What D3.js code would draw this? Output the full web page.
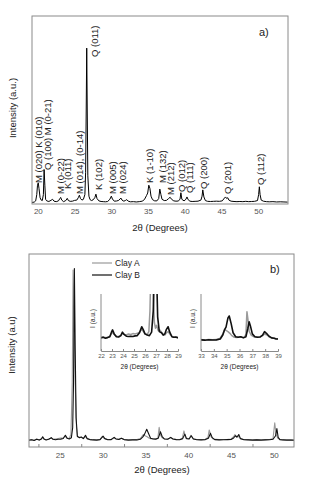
<!DOCTYPE html>
<html>
<head>
<meta charset="utf-8">
<script src="https://cdn.jsdelivr.net/npm/d3@7"></script>
<style>
  body { margin: 0; background: #fff; }
  svg { display: block; font-family: Arial, "Liberation Sans", sans-serif; }
</style>
</head>
<body>
<div id="chart"></div>
<script>
// ---- data (2theta in degrees, intensity in arbitrary units) ----
// panel a: mixed clay pattern
const patternMix = [
  [19.2,1.0],[19.5,1.2],[19.7,2.0],[19.85,6],[19.95,12],[20.05,13.5],[20.15,10],[20.3,4],[20.45,2.5],
  [20.6,2.2],[20.75,6],[20.85,22],[20.95,12],[21.05,3],[21.2,2],[21.5,1.6],[21.8,2.4],[22.0,3],
  [22.2,1.8],[22.5,1.5],[22.8,2],[23.0,3.5],[23.1,4.2],[23.25,2.5],[23.5,1.5],[23.8,2.2],[24.0,3.6],
  [24.15,2.2],[24.4,1.7],[24.7,1.8],[25.0,2.3],[25.3,2.5],[25.5,4],[25.65,5.6],[25.8,3.5],[26.0,2.5],
  [26.2,3],[26.4,6],[26.5,20],[26.58,60],[26.65,99.5],[26.72,60],[26.8,18],[26.95,5],[27.1,2.8],
  [27.3,2.2],[27.5,2.6],[27.75,4],[27.9,6.3],[28.05,3.5],[28.3,2],[28.6,1.6],[28.9,1.5],[29.2,1.4],
  [29.5,1.6],[29.8,3],[30.0,5],[30.15,3.2],[30.4,1.8],[30.7,1.9],[31.0,2.3],[31.3,3.8],[31.45,2.5],
  [31.7,1.8],[31.9,2.2],[32.1,2.8],[32.3,1.8],[32.6,1.4],[33.0,1.5],[33.4,1.3],[33.8,1.5],[34.2,1.8],
  [34.5,2.8],[34.8,5.5],[34.95,7],[35.1,12],[35.25,10],[35.4,5],[35.6,2.8],[35.9,2],[36.2,2],
  [36.45,3.5],[36.6,9.5],[36.75,6],[36.9,3],[37.2,2.2],[37.5,2.3],[37.8,3.5],[38.0,4.3],[38.2,3],
  [38.5,2],[38.8,1.8],[39.1,1.9],[39.35,3],[39.47,7.2],[39.6,3],[39.9,2],[40.15,3],[40.3,4.5],
  [40.45,2.8],[40.7,1.8],[41.0,1.6],[41.4,1.7],[41.8,1.8],[42.2,2.5],[42.35,5],[42.45,9],[42.6,4.5],
  [42.8,2.2],[43.1,1.7],[43.5,1.6],[43.9,1.7],[44.3,1.8],[44.7,1.7],[45.1,2],[45.4,3.8],[45.55,4.5],
  [45.7,3.5],[45.85,4],[46.0,2.5],[46.3,1.8],[46.7,1.6],[47.1,1.5],[47.5,1.6],[47.9,1.5],[48.3,1.7],
  [48.7,1.5],[49.1,1.6],[49.5,1.7],[49.9,2.2],[50.05,6],[50.15,11],[50.25,6],[50.4,2.5],[50.7,1.8],
  [51.1,1.5],[51.5,1.4],[52.0,1.5],[52.5,1.3],[53.0,1.4],[53.5,1.3],[54.0,1.2]
];

// peak labels: text, 2theta of the label column, intensity where the text starts
const peakText = ["M (020) K (010)", "Q (100) M (0-21)", "M (0-22)", "K (011)", "M (014), (0-14)",
  "Q (011)", "K (102)", "M (005)", "M (024)", "K (1-10)", "M (132)", "M (212)", "Q (012)",
  "Q (111)", "Q (200)", "Q (201)", "Q (112)"];
const peakAt = [20.14, 21.28, 23.06, 24.09, 25.69, 27.74, 28.32, 30.23, 31.6, 35.24, 37.05,
  38.06, 39.56, 40.7, 42.6, 45.78, 50.34];
const peakFrom = [13.4, 21.7, 6.4, 9.6, 6.4, 93.8, 8.9, 6.4, 6.4, 13.4, 13.4, 5.7, 7.7, 7, 9.6, 6.4, 12.1];

const ticksA = [20, 25, 30, 35, 40, 45, 50];

// panel b: the two clays
const clayA = [
  [21.4,4.4],[21.7,4.6],[22.0,4.2],[22.3,4.9],[22.6,4.4],[22.85,5.2],[23.0,6.0],[23.15,5.0],[23.4,4.5],
  [23.7,5.0],[24.0,5.6],[24.2,5.0],[24.5,4.9],[24.8,5.3],[25.1,5.6],[25.4,5.6],[25.6,6.8],[25.8,5.6],
  [26.1,5.3],[26.3,8],[26.45,40],[26.55,110],[26.65,85],[26.75,50],[26.85,30],[26.95,12],[27.05,6.5],
  [27.3,6.2],[27.5,6.0],[27.75,5.4],[28.0,6.5],[28.2,5.2],[28.5,4.7],[28.9,4.6],[29.3,4.5],[29.7,4.7],
  [29.95,6.5],[30.15,5.5],[30.6,4.7],[31.0,4.8],[31.3,5.8],[31.55,5.1],[31.9,4.9],[32.15,5.5],[32.5,4.7],
  [33.0,4.5],[33.5,4.5],[34.0,4.6],[34.4,5.2],[34.75,7.7],[34.95,7.0],[35.15,6.5],[35.4,5.6],[35.6,5.2],
  [35.9,5.1],[36.2,5.0],[36.45,5.6],[36.6,12.2],[36.75,7.5],[36.95,5.8],[37.2,5.1],[37.6,4.9],[37.95,5.8],
  [38.2,5.1],[38.6,4.7],[39.0,4.7],[39.3,5.3],[39.5,10],[39.7,5.5],[40.1,5.1],[40.3,7.3],[40.55,5.2],
  [41.0,4.7],[41.5,4.6],[42.0,4.8],[42.3,6],[42.45,10.6],[42.65,6.5],[42.9,5.0],[43.6,4.6],[44.1,4.7],
  [44.6,4.8],[45.0,5.0],[45.3,6.4],[45.45,7.7],[45.65,6.0],[45.85,6.8],[46.05,5.3],[46.5,4.7],[47.0,4.6],
  [47.5,4.5],[48.0,4.6],[48.5,4.5],[49.0,4.6],[49.5,4.7],[49.9,5.2],[50.1,15],[50.25,8],[50.45,5.5],
  [50.7,4.8],[51.0,4.6],[51.5,4.5],[52.0,4.5],[52.35,4.4]
];
const clayB = [
  [21.4,4.2],[21.7,4.5],[22.0,4.0],[22.3,4.8],[22.6,4.3],[22.85,5.0],[23.0,6.4],[23.15,5.0],[23.4,4.4],
  [23.7,4.8],[24.0,5.8],[24.2,4.8],[24.5,4.5],[24.8,4.8],[25.1,4.9],[25.4,5.3],[25.65,7.3],[25.85,5.5],
  [26.1,5.0],[26.35,5.8],[26.5,12],[26.6,40],[26.7,111],[26.8,60],[26.9,18],[27.05,6.5],[27.3,5.8],
  [27.5,6.2],[27.75,5.2],[28.0,7.3],[28.2,5.2],[28.5,4.6],[28.9,4.4],[29.3,4.3],[29.7,4.6],[29.9,5.8],
  [30.05,6.8],[30.25,5.2],[30.6,4.5],[31.0,4.6],[31.35,6.0],[31.55,5.0],[31.9,4.7],[32.2,5.4],[32.5,4.6],
  [33.0,4.3],[33.5,4.4],[34.0,4.4],[34.4,4.8],[34.7,6.3],[34.9,8],[35.15,11],[35.35,8.5],[35.6,5.5],
  [35.9,5.0],[36.2,4.9],[36.5,5.5],[36.75,9.5],[36.95,6.5],[37.2,5.0],[37.6,4.8],[37.95,6.0],[38.2,5.0],
  [38.6,4.6],[39.0,4.5],[39.35,5.2],[39.6,8],[39.8,5.2],[40.1,5.0],[40.35,7.0],[40.6,5.0],[41.0,4.5],
  [41.5,4.4],[42.0,4.6],[42.35,5.5],[42.6,8.5],[42.8,5.8],[43.1,4.6],[43.6,4.4],[44.1,4.5],[44.6,4.6],
  [45.0,4.7],[45.3,5.6],[45.5,7.0],[45.7,6.2],[45.9,7.8],[46.1,5.2],[46.5,4.5],[47.0,4.4],[47.5,4.3],
  [48.0,4.4],[48.5,4.3],[49.0,4.4],[49.5,4.5],[49.9,4.8],[50.2,7],[50.35,11.4],[50.5,6],[50.7,4.6],
  [51.0,4.4],[51.5,4.3],[52.0,4.3],[52.35,4.2]
];
const ticksB = [25, 30, 35, 40, 45, 50];
const minorTicksB = [22.5, 27.5, 32.5, 37.5, 42.5, 47.5];

// insets (zoomed regions, own intensity scale)
const inset1A = [
  [22.0,24],[22.2,24.5],[22.4,23.5],[22.6,24],[22.8,25.5],[22.95,30],[23.05,33],[23.2,29],[23.4,26],
  [23.6,25.5],[23.8,27],[23.95,31],[24.1,29],[24.3,28],[24.5,29.8],[24.7,29],[24.9,30.5],[25.1,30],
  [25.3,31],[25.5,33],[25.7,38],[25.85,34],[26.0,30],[26.2,29],[26.35,34],[26.45,70],[26.55,160],
  [26.65,150],[26.75,100],[26.85,50],[26.95,40],[27.05,45],[27.2,36],[27.35,36.8],[27.5,33],[27.65,29],
  [27.8,28],[27.95,32],[28.1,34],[28.25,30],[28.45,25.5],[28.6,24.5],[28.8,24],[29.0,24]
];
const inset1B = [
  [22.0,23],[22.2,24],[22.4,22.5],[22.6,23.5],[22.8,25],[22.95,33],[23.05,37],[23.2,30],[23.4,25],
  [23.6,24.5],[23.8,27],[23.95,33],[24.1,29],[24.3,26],[24.5,25.5],[24.7,26],[24.9,25.5],[25.1,26.5],
  [25.3,27],[25.5,32],[25.7,42.6],[25.85,37],[26.0,30],[26.2,28],[26.4,27],[26.6,33],[26.75,70],
  [26.85,140],[26.95,160],[27.05,140],[27.15,60],[27.3,34],[27.5,32],[27.65,28],[27.8,30],[27.95,38],
  [28.1,42.6],[28.25,33],[28.45,25],[28.6,24],[28.8,24.5],[29.0,23]
];
const inset2A = [
  [33.0,20],[33.3,19.5],[33.6,20.2],[33.9,19.8],[34.2,20],[34.5,22.5],[34.7,30],[34.85,38],[34.95,36],
  [35.1,33.9],[35.25,31],[35.4,27],[35.6,24],[35.8,23.5],[36.0,25],[36.2,24],[36.4,24],[36.5,30],
  [36.58,69],[36.66,55],[36.75,35],[36.9,28],[37.1,25],[37.3,24.5],[37.6,25],[37.8,27],[37.95,29.8],
  [38.15,28],[38.35,24],[38.6,23],[38.8,22],[39.0,21.5]
];
const inset2B = [
  [33.0,19.5],[33.3,19],[33.6,19.8],[33.9,19.2],[34.2,19.5],[34.5,21],[34.7,28],[34.85,38],[34.95,42],
  [35.1,58],[35.2,61.4],[35.35,48],[35.5,32],[35.7,25],[35.9,24],[36.1,25],[36.3,23],[36.5,25],
  [36.65,40],[36.75,51.4],[36.85,44],[37.0,30],[37.2,25],[37.4,24],[37.6,24.5],[37.8,28],[37.95,33.9],
  [38.1,31],[38.3,26],[38.5,23],[38.7,22.5],[38.85,21],[39.0,21]
];
const ticksInset1 = [22, 23, 24, 25, 26, 27, 28, 29];
const ticksInset2 = [33, 34, 35, 36, 37, 38, 39];

const seriesNames = ["Clay A", "Clay B"];
const colors = { clayA: "#9a9a9a", clayB: "#111", frame: "#8a8a8a", tick: "#555" };

// ---- drawing ----
const svg = d3.select("#chart").append("svg")
  .attr("width", 320)
  .attr("height", 480);

const defs = svg.append("defs");
function clip(id, x0, y0, x1, y1) {
  defs.append("clipPath").attr("id", id)
    .append("rect").attr("x", x0).attr("y", y0).attr("width", x1 - x0).attr("height", y1 - y0);
  return "url(#" + id + ")";
}

function drawLine(g, data, x, y, color, width) {
  g.append("path")
    .datum(data)
    .attr("fill", "none")
    .attr("stroke", color)
    .attr("stroke-width", width)
    .attr("stroke-linejoin", "round")
    .attr("d", d3.line().x(d => x(d[0])).y(d => y(d[1])));
}

function xLabel(g, x, y, size) {
  g.append("text")
    .attr("x", x).attr("y", y)
    .attr("text-anchor", "middle")
    .attr("font-size", size)
    .attr("fill", "#222")
    .text("2θ (Degrees)");
}

function yLabel(g, x, y, size, text) {
  g.append("text")
    .attr("transform", "translate(" + x + "," + y + ") rotate(-90)")
    .attr("text-anchor", "middle")
    .attr("font-size", size)
    .attr("fill", "#222")
    .text(text);
}

// Panel a
const xA = d3.scaleLinear().domain([19.2, 54.05]).range([32, 288]);
const yA = d3.scaleLinear().domain([0, 120]).range([204, 16]);
const gA = svg.append("g");

drawLine(gA.append("g").attr("clip-path", clip("clipA", 32, 16, 288, 204)), patternMix, xA, yA, "#000", 1);

gA.append("rect")
  .attr("x", 32).attr("y", 16).attr("width", 256).attr("height", 188)
  .attr("fill", "none").attr("stroke", colors.frame).attr("stroke-width", 1);

const axA = gA.append("g")
  .attr("transform", "translate(0,204)")
  .call(d3.axisBottom(xA).tickValues(ticksA).tickSize(0).tickPadding(4).tickFormat(d3.format("d")));
axA.select(".domain").remove();
axA.selectAll("text").attr("font-size", 8).attr("fill", colors.tick).attr("font-family", null);

gA.selectAll("text.peak")
  .data(peakText)
  .enter()
  .append("text")
    .attr("class", "peak")
    .attr("transform", (d, i) => "translate(" + xA(peakAt[i]) + "," + yA(peakFrom[i]) + ") rotate(-90)")
    .attr("dy", "0.35em")
    .attr("font-size", 9.5)
    .attr("fill", "#222")
    .text(d => d);

gA.append("text").attr("x", 259).attr("y", 36).attr("font-size", 11).attr("fill", "#222").text("a)");
xLabel(gA, 160, 231, 9.5);
yLabel(gA, 16, 108, 9.5, "Intensity (a.u.)");

// Panel b
const xB = d3.scaleLinear().domain([21.4, 52.35]).range([29, 294]);
const yB = d3.scaleLinear().domain([0, 120]).range([447, 254]);
const gB = svg.append("g");
const plotB = gB.append("g").attr("clip-path", clip("clipB", 29, 254, 294, 447));
drawLine(plotB, clayA, xB, yB, colors.clayA, 1.1);
drawLine(plotB, clayB, xB, yB, colors.clayB, 1.1);

gB.append("rect")
  .attr("x", 29).attr("y", 254).attr("width", 265).attr("height", 193)
  .attr("fill", "none").attr("stroke", colors.frame).attr("stroke-width", 1);

const axB = gB.append("g")
  .attr("transform", "translate(0,447)")
  .call(d3.axisBottom(xB).tickValues(ticksB).tickSize(0).tickPadding(5).tickFormat(d3.format("d")));
axB.select(".domain").remove();
axB.selectAll("text").attr("font-size", 8).attr("fill", colors.tick).attr("font-family", null);

const minorB = gB.append("g")
  .attr("transform", "translate(0,447)")
  .call(d3.axisBottom(xB).tickValues(minorTicksB).tickSize(-3).tickFormat(""));
minorB.select(".domain").remove();
minorB.selectAll("line").attr("stroke", colors.frame);

gB.append("text").attr("x", 270).attr("y", 273).attr("font-size", 11).attr("fill", "#222").text("b)");
xLabel(gB, 162, 473, 9.5);
yLabel(gB, 15, 345, 9.5, "Intensity (a.u)");

// legend
const legend = gB.append("g");
seriesNames.forEach((name, i) => {
  const ly = 263 + i * 12;
  legend.append("line")
    .attr("x1", 92).attr("x2", 112).attr("y1", ly).attr("y2", ly)
    .attr("stroke", i === 0 ? colors.clayA : colors.clayB).attr("stroke-width", 1.2);
  legend.append("text")
    .attr("x", 115).attr("y", ly + 3)
    .attr("font-size", 8.5).attr("fill", "#222")
    .text(name);
});

// insets
function inset(id, domain, x0, x1, ticks, seriesA, seriesB) {
  const top = 294, bottom = 351;
  const x = d3.scaleLinear().domain(domain).range([x0, x1]);
  const y = d3.scaleLinear().domain([0, 100]).range([bottom, top]);
  const g = gB.append("g");
  const plot = g.append("g").attr("clip-path", clip(id, x0, top, x1, bottom));
  drawLine(plot, seriesA, x, y, colors.clayA, 1.5);
  drawLine(plot, seriesB, x, y, colors.clayB, 1.6);

  const ax = g.append("g")
    .attr("transform", "translate(0," + bottom + ")")
    .call(d3.axisBottom(x).tickValues(ticks).tickSize(-2).tickPadding(3).tickFormat(d3.format("d")));
  ax.select(".domain").attr("stroke", colors.frame);
  ax.selectAll("line").attr("stroke", colors.frame);
  ax.selectAll("text").attr("font-size", 6).attr("fill", colors.tick).attr("font-family", null);

  g.append("line")
    .attr("x1", x0).attr("x2", x0).attr("y1", top).attr("y2", bottom)
    .attr("stroke", colors.frame).attr("stroke-width", 1);

  yLabel(g, x0 - 6, (top + bottom) / 2 - 4, 6.5, "I (a.u.)");
  xLabel(g, (x0 + x1) / 2, 369, 6.5);
}

inset("clipI1", [22, 29], 101, 178, ticksInset1, inset1A, inset1B);
inset("clipI2", [33, 39], 201, 278, ticksInset2, inset2A, inset2B);
</script>
</body>
</html>
